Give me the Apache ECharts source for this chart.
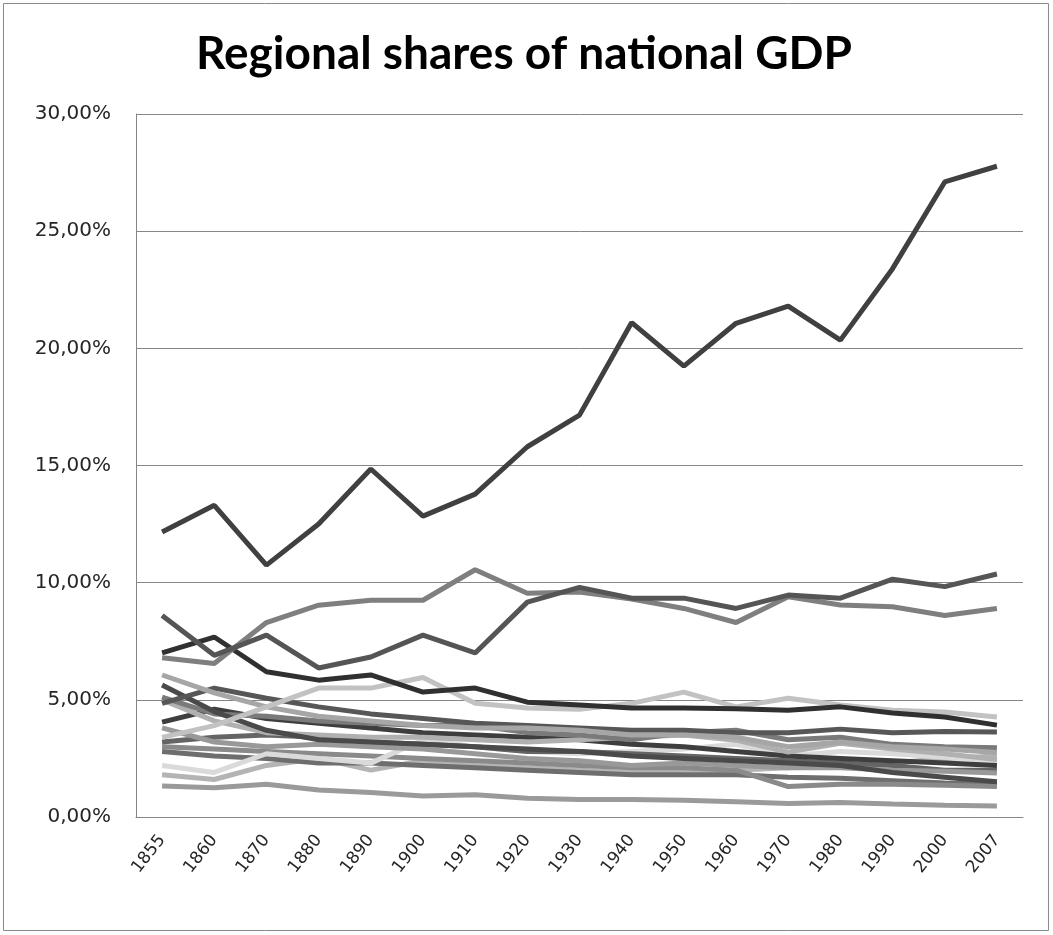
<!DOCTYPE html>
<html><head><meta charset="utf-8">
<script src="https://cdn.jsdelivr.net/npm/echarts@6/dist/echarts.min.js"></script>
<style>html,body{margin:0;padding:0;background:#fff}#c{width:1053px;height:935px}</style>
</head><body><div id="c"></div>
<script>
const years = ['1855','1860','1870','1880','1890','1900','1910','1920','1930','1940','1950','1960','1970','1980','1990','2000','2007'];
const yTicks = [0,5,10,15,20,25,30];
const madrid = [12.16,13.3,10.75,12.5,14.85,12.84,13.78,15.8,17.15,21.1,19.24,21.07,21.8,20.35,23.4,27.1,27.77];
const regA = [8.6,6.9,7.76,6.36,6.83,7.76,7.0,9.17,9.8,9.34,9.34,8.9,9.47,9.34,10.15,9.83,10.37];
const regB = [6.8,6.55,8.3,9.04,9.25,9.25,10.55,9.55,9.6,9.3,8.9,8.3,9.4,9.05,8.97,8.6,8.9];
const regC = [7.0,7.68,6.2,5.84,6.06,5.33,5.5,4.9,4.78,4.65,4.65,4.62,4.56,4.7,4.44,4.27,3.92];
const reg1 = [3.4,3.9,4.7,5.5,5.5,5.95,4.85,4.65,4.6,4.85,5.33,4.7,5.07,4.78,4.56,4.48,4.27];
const reg2 = [6.06,5.3,4.7,4.3,4.1,3.9,3.8,3.8,3.7,3.5,3.5,3.4,3.0,3.2,3.0,2.9,2.75];
const reg3 = [5.63,4.5,3.7,3.3,3.2,3.1,3.0,2.9,2.8,2.6,2.5,2.4,2.3,2.2,1.9,1.7,1.5];
const reg4 = [4.85,5.5,5.07,4.7,4.4,4.2,4.0,3.9,3.8,3.7,3.7,3.6,3.6,3.75,3.6,3.65,3.63];
const reg5 = [5.12,4.4,4.3,4.1,4.0,3.9,3.9,3.6,3.5,3.3,3.6,3.7,3.3,3.4,3.1,3.0,2.95];
const reg6 = [5.0,4.1,3.6,3.5,3.4,3.4,3.3,3.2,3.3,3.4,3.5,3.28,2.77,3.15,2.9,2.7,2.45];
const reg7 = [4.05,4.6,4.2,4.0,3.8,3.6,3.5,3.4,3.3,3.1,3.0,2.8,2.6,2.5,2.4,2.3,2.2];
const reg8 = [3.8,3.2,3.0,3.1,3.0,2.9,2.7,2.5,2.4,2.2,2.3,2.2,2.1,2.1,2.0,1.95,1.88];
const reg9 = [3.2,3.4,3.5,3.4,3.2,3.1,3.0,2.8,2.8,2.7,2.6,2.5,2.4,2.3,2.2,2.0,2.0];
const reg10 = [2.2,1.9,2.7,2.5,2.3,3.3,3.0,2.8,2.7,2.8,2.9,3.1,2.6,2.8,2.7,2.55,2.4];
const reg11 = [3.0,2.9,2.8,2.7,2.6,2.5,2.4,2.3,2.2,2.1,2.1,2.0,1.3,1.4,1.4,1.35,1.3];
const reg12 = [2.8,2.6,2.5,2.3,2.3,2.2,2.1,2.0,1.9,1.8,1.8,1.8,1.7,1.65,1.55,1.45,1.4];
const reg13 = [1.8,1.6,2.2,2.5,2.0,2.4,2.2,2.1,2.0,1.9,2.0,2.0,2.1,2.2,2.3,2.5,2.6];
const reg14 = [1.32,1.25,1.4,1.15,1.05,0.9,0.95,0.8,0.75,0.75,0.72,0.65,0.58,0.62,0.55,0.5,0.47];

const lines = [
  [reg14,'#9a9a9a'],[reg13,'#b4b4b4'],[reg12,'#6e6e6e'],[reg11,'#8a8a8a'],[reg10,'#dadada'],
  [reg9,'#656565'],[reg8,'#999999'],[reg7,'#3e3e3e'],[reg6,'#b0b0b0'],[reg5,'#7a7a7a'],
  [reg3,'#4a4a4a'],[reg4,'#575757'],[reg2,'#a6a6a6'],[reg1,'#c2c2c2'],
  [regC,'#303030'],[regB,'#7f7f7f'],[regA,'#555555'],[madrid,'#404040']
];

const chart = echarts.init(document.getElementById('c'));
chart.setOption({
  animation:false,
  title:{text:'Regional shares of national GDP',left:519,textAlign:'center',top:26,
    textStyle:{fontFamily:'Lato',fontWeight:'bold',fontSize:46,color:'#000'}},
  graphic:[{type:'rect',shape:{x:3.5,y:3.5,width:1045,height:927},style:{fill:'none',stroke:'#8a8a8a',lineWidth:1}}],
  grid:{left:136,top:114,right:30,bottom:118},
  xAxis:{type:'category',data:years,boundaryGap:true,
    axisLine:{lineStyle:{color:'#868686'}},axisTick:{show:false},
    axisLabel:{rotate:52,fontFamily:'DejaVu Sans',fontSize:17,color:'#262626',margin:20}},
  yAxis:{type:'value',min:yTicks[0],max:yTicks[yTicks.length-1],interval:5,
    axisLine:{show:true,lineStyle:{color:'#868686'}},axisTick:{show:false},
    splitLine:{lineStyle:{color:'#868686',width:1}},
    axisLabel:{fontFamily:'DejaVu Sans',fontSize:20,color:'#262626',margin:25,
      formatter:v=>v.toFixed(2).replace('.',',')+'%'}},
  series: lines.map(([d,c])=>({type:'line',data:d,symbol:'none',
    lineStyle:{color:c,width:5},itemStyle:{color:c}}))
});
</script></body></html>
